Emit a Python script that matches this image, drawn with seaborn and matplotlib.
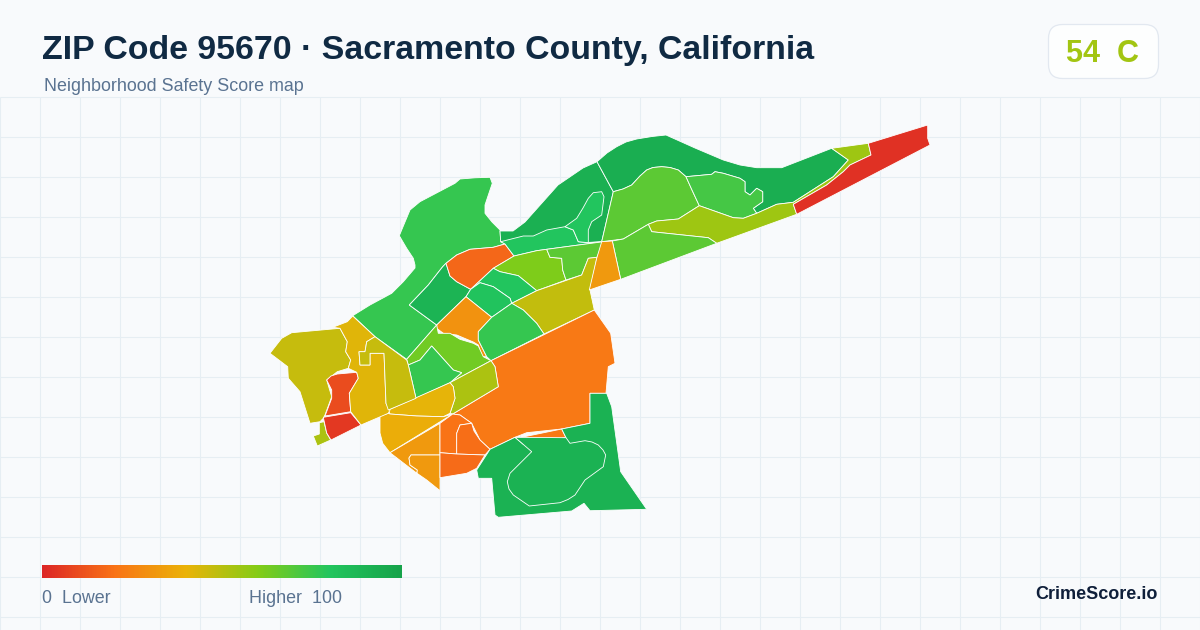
import numpy as np
import matplotlib
matplotlib.use("Agg")
import matplotlib.pyplot as plt
from matplotlib.colors import LinearSegmentedColormap
from matplotlib.patches import FancyBboxPatch
import seaborn as sns

# legend colour stops
score_stops = [0, 20, 40, 60, 80, 100]
stop_colors = ["#dc2626", "#f97316", "#eab308", "#84cc16", "#22c55e", "#16a34a"]

title = "ZIP Code 95670 · Sacramento County, California"
subtitle = "Neighborhood Safety Score map"
zip_score = 54
zip_grade = "C"

# neighbourhood outlines
nw_big = [(352.7,315.7),(370,305),(391.7,293.3),(403.3,281.7),(415,268),(415,265),(413.3,258.3),(406.7,248.3),(399.3,235.7),(405,222),(410,210),(420,201.7),(455,183.3),(460,179),(475,177.8),(490,177.3),(492.3,183.3),(488,196),(485,205),(485,213.3),(492,222),(500,230),(500.7,241.7),(505,244),(493.3,247.3),(470,249.3),(456.7,255),(446,263.3),(442.7,266.7),(428.3,285),(409.3,305),(436.7,325),(406.7,359.3),(375,336.7)]
nw_inner = [(442.7,266.7),(428.3,285),(409.3,305),(436.7,325),(466,296.7),(470.7,289.3),(456.7,281.7),(450,276),(446,263.3)]
red_orange = [(446,263.3),(456.7,255),(470,249.3),(493.3,247.3),(505,244),(514,256),(493.3,268.3),(470.7,289.3),(456.7,281.7),(450,276)]
top_dark = [(500,231),(513,231),(525,222),(558,185),(583,168),(597,161.7),(613.3,191.7),(601.7,241.7),(578,243),(500.7,241.7)]
top_strip = [(500.7,241.7),(523.3,236),(533.3,236),(546.7,230),(565,226.7),(573.3,230),(578.3,241.7),(588.3,242.7),(603.3,241.7),(546.7,249.3),(536.7,250.7),(514,256),(505,244)]
top_loop = [(565,226.7),(576.7,218.3),(583,208),(588.3,198.3),(593.3,192.7),(601.7,191.7),(604,196.7),(601.7,215),(591.7,221.7),(588.3,230),(588.3,242.7),(578.3,241.7),(573.3,230)]
lime_mid = [(493.3,268.3),(514,256),(536.7,250.7),(546.7,249.3),(550,257.3),(561.7,258.3),(562.7,270),(566,280),(536.7,290.7),(518.3,275.7),(500,271.7)]
lime_east = [(546.7,249.3),(603.3,241.7),(597,257.3),(588.3,258.3),(581.7,275),(566,280),(562.7,270),(561.7,258.3),(550,257.3)]
green_a = [(493.3,268.3),(500,271.7),(518.3,275.7),(536.7,290.7),(511.7,303.3),(510,298.3),(493.3,286.7),(480,282.7),(470.7,289.3)]
green_b = [(470.7,289.3),(480,282.7),(493.3,286.7),(510,298.3),(511.7,303.3),(491.7,317.3),(466,296.7)]
olive_mid = [(511.7,303.3),(536.7,290.7),(581.7,275),(588.3,258.3),(597,257.3),(590,290),(594.3,310),(544,334),(536.7,323.3),(523.3,310)]
amber_mid = [(466,296.7),(491.7,317.3),(478.3,331.7),(478.3,340),(486.7,356.7),(482,356.7),(478.3,345),(473.3,342),(456.7,335),(443.3,333.3),(436.7,328.3),(436.7,325)]
lime_centre = [(436.7,325),(438.3,333.3),(450,333.3),(460,339.3),(473.3,343.3),(478.3,346),(483.3,356.7),(491,360.7),(450,382.7),(461.7,372.7),(453.3,370),(431.7,346),(420,360),(408.3,365),(406.7,359.3)]
green_c = [(408.3,365),(420,360),(431.7,346),(453.3,370),(461.7,372.7),(450,382.7),(416,398.3)]
green_d = [(511.7,303.3),(523.3,310),(536.7,323.3),(544,334),(491,360.7),(486.7,356.7),(478.3,340),(478.3,331.7),(491.7,317.3)]
orange_big = [(594.3,310),(610.7,333.3),(615,363.3),(608.3,366.7),(606,393.3),(590,393.3),(590,423.3),(561.7,429),(526.7,432.7),(515,437.3),(490,449.3),(480,440),(471.7,423.3),(460,415),(452.7,414),(498.3,386.7),(495,366.7),(491,360.7)]
orange_strip = [(516.7,438.3),(561.7,429),(566,437.7),(523.3,444.3)]
yellow_green = [(491,360.7),(495,366.7),(498.3,386.7),(452.7,414),(450,413.3),(455,398.3),(453.3,386.7),(450,382.7)]
yellow_a = [(450,382.7),(453.3,386.7),(455,398.3),(450,413.3),(443.3,416.7),(416.7,416),(390,414),(388.3,410)]
yellow_b = [(380,416),(388.3,413.3),(390,414),(416.7,416),(443.3,416.7),(452.7,414),(390,452.7),(382.7,443.3),(380,433)]
amber_a = [(390,452.7),(440,423.3),(440,455),(411,455),(409,458),(410,465),(417.3,470),(417,473.3),(423,478)]
amber_b = [(411,455),(440,455),(440,490.7),(426.7,480),(417,473.3),(417.3,470),(410,465),(409,458)]
orange_a = [(440,423.3),(452.7,414),(460,415),(471.7,423.3),(460,425),(456.7,433.3),(456.7,454),(440,452.7)]
orange_b = [(471.7,423.3),(474,431),(480,440),(490,449.3),(485,455),(456.7,454),(456.7,433.3),(460,425)]
orange_c = [(440,452.7),(456.7,454),(485,455),(476.7,468.3),(466.7,473.3),(440,477.7)]
south_outer = [(476.7,470),(490,449.3),(515,437.3),(523.3,444.3),(566,437.7),(561.7,429),(590,423.3),(590,393.3),(606.7,393.3),(611.7,406.7),(620.7,471.7),(646.7,509.3),(590,510.7),(584,503.3),(571.7,511),(498.3,517.3),(495,515),(491.7,478.3),(478.3,478.3)]
south_inner = [(515,437.3),(531.7,451.7),(510,473.3),(507.3,481.7),(509,489),(513.3,495),(529.3,506),(560,502.7),(568,499.5),(575,495),(585,480),(603.3,466.7),(605.7,455),(603,450),(598.3,445),(592,442),(585,440.7),(570,443.3),(566,437.7)]
west_olive = [(270,353.3),(281.7,338.3),(291.7,332.7),(340,328.3),(347.3,341.7),(345.7,351.7),(350.7,360),(348.3,368.3),(337.3,371.7),(326.7,380),(331.7,396.7),(325,415),(323.3,418.3),(320,421.7),(310,423.3),(300,391.7),(288.3,378.3),(287.7,366.7)]
west_tab = [(313.3,436),(319.3,434),(319.3,422.7),(324,421.7),(326.7,433),(330.7,440),(317.3,446)]
peanut = [(326.7,380),(331,376),(337.3,374),(356.7,372.3),(358.3,378.3),(349.3,393.3),(350.7,411.7),(325,416),(331.7,398.3),(331.7,390)]
west_red = [(323.3,417.3),(350.7,412.7),(361,425),(331,440),(326.7,433)]
west_yellow = [(332.7,327.3),(347.3,321.7),(352.7,316),(375,336.7),(366.7,341.7),(365,351.7),(359,351.7),(360,365),(370,365),(370,353.3),(384,353.3),(386,403.3),(390,410),(388.3,413.3),(361,425),(350.7,411.7),(349.3,393.3),(358.3,378.3),(356.7,372.3),(348.3,368.3),(350.7,360),(345.7,351.7),(347.3,341.7),(340,328.3)]
west_swirl = [(375,336.7),(406.7,360),(408.3,365),(416,398.3),(388.3,410),(386,403.3),(384,353.3),(370,353.3),(370,365),(360,365),(359,351.7),(365,351.7),(366.7,341.7)]
ne_dark = [(597,161.7),(607,153),(616.7,146.7),(626,142),(636.7,139),(652,136.5),(666,135),(695,148),(723.3,160),(740,165),(756.7,167.7),(781.7,167.7),(831.7,148.3),(848.3,160),(833.3,176.7),(793.3,202.3),(776.7,204.3),(756.7,213.3),(753.3,208.3),(762.7,201.7),(762.7,191.7),(756.7,188.3),(750,195),(745,191.7),(745,181.7),(740,178.3),(723.3,173.3),(715,171.7),(711.7,174.3),(686,176.7),(678.3,170),(670,167.5),(661.7,166.7),(653,167.5),(646.7,170),(640,176),(631.7,185),(623,189),(613.3,191.7)]
ne_lime = [(613.3,191.7),(623,189),(631.7,185),(640,176),(646.7,170),(653,167.5),(661.7,166.7),(670,167.5),(678.3,170),(686,176.7),(692,190),(699.3,205.7),(678.3,219),(656.7,221),(648.3,224.3),(623.3,239),(601.7,241.7)]
ne_green = [(686,176.7),(711.7,174.3),(715,171.7),(723.3,173.3),(740,178.3),(745,181.7),(745,191.7),(750,195),(756.7,188.3),(762.7,191.7),(762.7,201.7),(753.3,208.3),(756.7,213.3),(743.3,218.3),(733.3,217.7),(699.3,205.7),(692,190)]
ne_yellow = [(699.3,205.7),(733.3,217.7),(743.3,218.3),(756.7,213.3),(776.7,204.3),(793.3,202.3),(833.3,176.7),(848.3,160),(831.7,148.3),(868.3,143.3),(871,155),(850,165),(843.3,171.7),(826.7,185),(793.3,204.3),(796.7,214.3),(716.7,243.3),(708.3,237.7),(651.7,231.7),(648.3,224.3),(656.7,221),(678.3,219)]
ne_red = [(793.3,204.3),(826.7,185),(843.3,171.7),(850,165),(871,155),(868.3,143.3),(927.7,125),(927.7,138.3),(930,145),(796.7,214.3)]
east_lime = [(623.3,239),(648.3,224.3),(651.7,231.7),(708.3,237.7),(716.7,243.3),(620.7,279.3),(612.3,241)]
east_amber = [(601.7,241.7),(612.3,241),(620.7,279.3),(589.3,290),(596.7,258.3)]

outlines = [nw_big, nw_inner, red_orange, top_dark, top_strip, top_loop, lime_mid, lime_east,
            green_a, green_b, olive_mid, amber_mid, lime_centre, green_c, green_d, orange_big,
            orange_strip, yellow_green, yellow_a, yellow_b, amber_a, amber_b, orange_a, orange_b,
            orange_c, south_outer, south_inner, west_olive, west_tab, peanut, west_red,
            west_yellow, west_swirl, ne_dark, ne_lime, ne_green, ne_yellow, ne_red, east_lime,
            east_amber]
scores = [76, 90, 17, 92, 80, 80, 61, 68,
          80, 81, 48, 30, 64, 76, 76, 22,
          22, 52, 41, 38, 32, 32, 20, 19,
          18, 91, 91, 47, 52, 10, 5,
          42, 47, 93, 68, 73, 55, 3, 68,
          32]

sns.set_theme(style="white", rc={"axes.facecolor": "#f8fafc", "figure.facecolor": "#f8fafc"})
plt.rcParams["font.family"] = ["Liberation Sans", "DejaVu Sans"]

cmap = LinearSegmentedColormap.from_list(
    "safety", [(s / 100, c) for s, c in zip(score_stops, stop_colors)])

fig = plt.figure(figsize=(12, 6.3), dpi=100)
ax = fig.add_axes([0, 0, 1, 1])
ax.set_xlim(0, 1200)
ax.set_ylim(630, 0)
ax.axis("off")
ax.add_patch(plt.Rectangle((0, 0), 1200, 630, color="#f8fafc", zorder=0))

# background grid
ax.vlines(np.arange(0, 1201, 40), 97, 630, color="#e6eef3", lw=0.8, zorder=1)
ax.hlines(np.arange(97, 630, 40), 0, 1200, color="#e6eef3", lw=0.8, zorder=1)

for outline, score in zip(outlines, scores):
    xs, ys = zip(*outline)
    ax.fill(xs, ys, facecolor=cmap(score / 100), edgecolor="white", lw=0.6, zorder=2)

ax.text(42, 59, title, fontsize=24.4, fontweight="bold", color="#102a43", va="baseline")
ax.text(44, 91, subtitle, fontsize=12.85, color="#5a7391", va="baseline")

ax.add_patch(FancyBboxPatch((1048.5, 24.5), 110, 54, boxstyle="round,pad=0,rounding_size=14",
                            fc="#fdfefe", ec="#e2e8f0", lw=0.9, zorder=3))
ax.text(1103, 61.5, f"{zip_score}  {zip_grade}", fontsize=22, fontweight="bold",
        color=cmap(zip_score / 100), ha="center", va="baseline", zorder=4)

ax.text(42, 603, "0  Lower", fontsize=12.9, color="#5a7391", va="baseline")
ax.text(249, 603, "Higher  100", fontsize=12.9, color="#5a7391", va="baseline")
ax.text(1158, 599, "CrimeScore.io", fontsize=13, fontweight="bold", color="#0f1f3a",
        ha="right", va="baseline")

# legend bar, a one row heatmap over the score range
cax = fig.add_axes([42 / 1200, 1 - 578 / 630, 360 / 1200, 13 / 630])
sns.heatmap(np.linspace(0, 100, 360).reshape(1, -1), ax=cax, cmap=cmap, vmin=0, vmax=100,
            cbar=False, xticklabels=False, yticklabels=False)

fig.savefig("out.png", dpi=100)
plt.close(fig)
